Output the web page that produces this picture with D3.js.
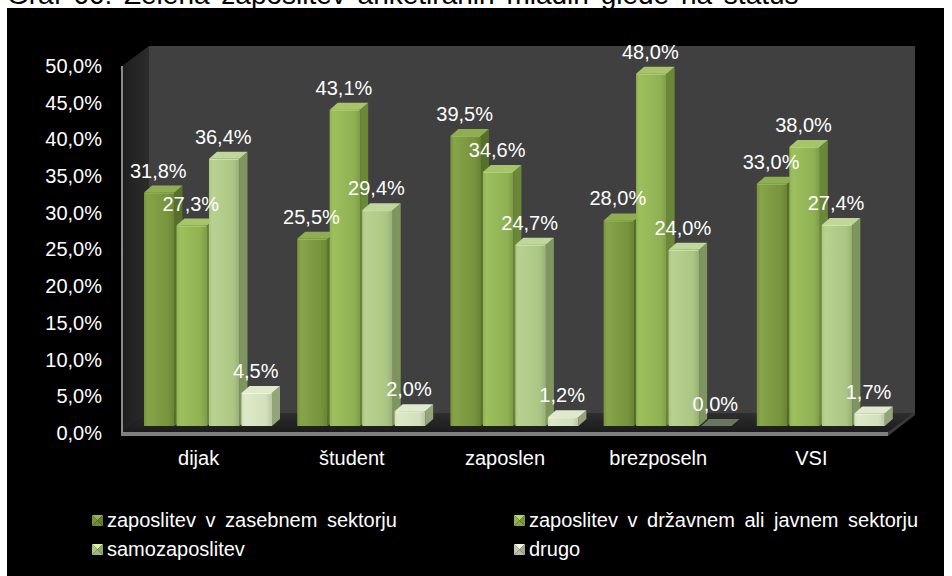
<!DOCTYPE html>
<html>
<head>
<meta charset="utf-8">
<script src="https://cdn.jsdelivr.net/npm/d3@7"></script>
<style>
  html, body { margin: 0; padding: 0; background: #ffffff; }
  svg { display: block; font-family: "Liberation Sans", Arial, sans-serif; }
</style>
</head>
<body>
<svg id="chart" width="952" height="576"></svg>
<script>
// ---- data ----
const titleText = "Graf 66: Želena zaposlitev anketiranih mladih glede na status";
const categories = ["dijak", "študent", "zaposlen", "brezposeln", "VSI"];
const seriesNames = [
  "zaposlitev v zasebnem sektorju",
  "zaposlitev v državnem ali javnem sektorju",
  "samozaposlitev",
  "drugo"
];
const zasebni   = [31.8, 25.5, 39.5, 28.0, 33.0];
const drzavni   = [27.3, 43.1, 34.6, 48.0, 38.0];
const samozap   = [36.4, 29.4, 24.7, 24.0, 27.4];
const drugo     = [4.5, 2.0, 1.2, 0.0, 1.7];
const tickValues = [0, 5, 10, 15, 20, 25, 30, 35, 40, 45, 50];

const seriesValues = [zasebni, drzavni, samozap, drugo];

// colours per series: front, side, top
const palette = [
  { front: "#77933c", light: "#86a449", side: "#56702a", top: "#8fae52" },
  { front: "#8fb152", light: "#9dbf5d", side: "#6a8838", top: "#a6c56a" },
  { front: "#abc683", light: "#b8d191", side: "#7f9560", top: "#c0d79c" },
  { front: "#d3e0bb", light: "#dde8c8", side: "#93a47a", top: "#dfe9cb" }
];

const svg = d3.select("#chart");
const defs = svg.append("defs");
const fmt = v => d3.format(".1f")(v).replace(".", ",") + "%";

// ---- geometry of the 3D box ----
const left = 122, right = 888, depthX = 27, depthY = -20;
const y = d3.scaleLinear().domain([0, 50]).range([433, 66]);
const barDX = 8, barDY = -7, barShiftY = -7;

// title (partly above the panel)
svg.append("text")
  .attr("x", 7).attr("y", 4)
  .attr("font-size", 28).attr("word-spacing", 4)
  .attr("fill", "#000")
  .text(titleText);

// black panel
svg.append("rect").attr("x", 7).attr("y", 8).attr("width", 937).attr("height", 568).attr("fill", "#000");

// gradients
const gSide = defs.append("linearGradient").attr("id", "sideWall").attr("x1", 0).attr("x2", 1);
gSide.append("stop").attr("offset", 0).attr("stop-color", "#1e1e1e");
gSide.append("stop").attr("offset", 1).attr("stop-color", "#2c2c2c");
const gFloor = defs.append("linearGradient").attr("id", "floor").attr("x1", 0).attr("x2", 0).attr("y1", 0).attr("y2", 1);
gFloor.append("stop").attr("offset", 0).attr("stop-color", "#2e2e2e");
gFloor.append("stop").attr("offset", 1).attr("stop-color", "#1a1a1a");

palette.forEach((p, i) => {
  const g = defs.append("linearGradient").attr("id", "front" + i).attr("x1", 0).attr("x2", 1);
  g.append("stop").attr("offset", 0).attr("stop-color", p.front);
  g.append("stop").attr("offset", 0.12).attr("stop-color", p.light);
  g.append("stop").attr("offset", 0.8).attr("stop-color", p.front);
  g.append("stop").attr("offset", 1).attr("stop-color", d3.color(p.front).darker(0.35));
});

const pts = a => a.map(p => p.join(",")).join(" ");

// back wall
svg.append("rect")
  .attr("x", left + depthX).attr("y", y(50) + depthY)
  .attr("width", right - left).attr("height", y(0) - y(50))
  .attr("fill", "#404040");

// left side wall
svg.append("polygon")
  .attr("points", pts([[left, y(50)], [left + depthX, y(50) + depthY], [left + depthX, y(0) + depthY], [left, y(0)]]))
  .attr("fill", "url(#sideWall)");

// floor
svg.append("polygon")
  .attr("points", pts([[left, y(0)], [left + depthX, y(0) + depthY], [right + depthX, y(0) + depthY], [right, y(0)]]))
  .attr("fill", "url(#floor)");

// floor front edge and right edge
svg.append("polygon")
  .attr("points", pts([[right, y(0) - 1], [right + depthX, y(0) + depthY - 1], [right + depthX, y(0) + depthY + 2], [right, y(0) + 3]]))
  .attr("fill", "#3a3a3a");
svg.append("rect")
  .attr("x", left - 1).attr("y", y(0) - 1).attr("width", right - left + 1).attr("height", 4)
  .attr("fill", "#7f7f7f");
// left wall front edge
svg.append("line")
  .attr("x1", left).attr("x2", left).attr("y1", y(50)).attr("y2", y(0))
  .attr("stroke", "#8c8c8c").attr("stroke-width", 2);

// y axis labels
const yAxis = d3.axisLeft(y).tickValues(tickValues).tickFormat(fmt).tickSize(0).tickPadding(20);
const yg = svg.append("g").attr("transform", `translate(${left},0)`).call(yAxis);
yg.select(".domain").remove();
yg.selectAll("text").attr("font-size", 20).attr("fill", "#ffffff")
  .attr("font-family", '"Liberation Sans", Arial, sans-serif');

// category scales
const x0 = d3.scaleBand().domain(categories).range([left, right]);
const x1 = d3.scaleBand().domain(seriesNames).range([22, 150]).paddingInner(0.06);

// x axis labels
const xAxis = d3.axisBottom(x0).tickSize(0).tickPadding(18);
const xg = svg.append("g").attr("transform", `translate(0,${y(0)})`).call(xAxis);
xg.select(".domain").remove();
xg.selectAll("text").attr("font-size", 20).attr("fill", "#ffffff")
  .attr("font-family", '"Liberation Sans", Arial, sans-serif');

// bars
const bars = [];
categories.forEach((c, ci) => {
  seriesNames.forEach((s, si) => {
    bars.push({ cat: c, series: s, si, value: seriesValues[si][ci] });
  });
});

const barG = svg.append("g");
const w = x1.bandwidth();
bars.forEach(d => {
  const bx = x0(d.cat) + x1(d.series);
  const top = y(d.value) + barShiftY;
  const base = y(0) + barShiftY;
  const p = palette[d.si];
  const g = barG.append("g");
  // side face
  g.append("polygon")
    .attr("points", pts([[bx + w, top], [bx + w + barDX, top + barDY], [bx + w + barDX, base + barDY], [bx + w, base]]))
    .attr("fill", p.side);
  // front face
  if (d.value > 0) {
    g.append("rect")
      .attr("x", bx).attr("y", top).attr("width", w).attr("height", base - top)
      .attr("fill", `url(#front${d.si})`);
  }
  // top face
  g.append("polygon")
    .attr("points", pts([[bx, top], [bx + barDX, top + barDY], [bx + w + barDX, top + barDY], [bx + w, top]]))
    .attr("fill", d.value > 0 ? p.top : "#6b7660");
  // slight highlight on the top front edge
  if (d.value > 0) {
    g.append("line")
      .attr("x1", bx + 1).attr("x2", bx + w - 1).attr("y1", top + 0.5).attr("y2", top + 0.5)
      .attr("stroke", d3.color(p.top).brighter(0.4)).attr("stroke-width", 1).attr("opacity", 0.7);
  }
});

// value labels
svg.append("g").selectAll("text").data(bars).join("text")
  .attr("x", d => x0(d.cat) + x1(d.series) + w / 2 - 1)
  .attr("y", d => y(d.value) + barShiftY - 15)
  .attr("text-anchor", "middle")
  .attr("font-size", 20).attr("fill", "#ffffff")
  .text(d => fmt(d.value));

// legend
const legendPos = [[92, 527], [514, 527], [92, 556], [514, 556]];
const lg = svg.append("g");
seriesNames.forEach((s, i) => {
  const [lx, ly] = legendPos[i];
  const p = palette[i];
  const sx = lx, sy = ly - 12, sz = 11;
  const cx = sx + sz / 2, cy = sy + sz / 2;
  const base = i === 3 ? "#c4cbb4" : p.front;
  const light = d3.color(base).brighter(0.6), dark = d3.color(base).darker(0.5);
  lg.append("polygon").attr("points", pts([[sx, sy], [sx + sz, sy], [cx, cy]])).attr("fill", light);
  lg.append("polygon").attr("points", pts([[sx, sy], [sx, sy + sz], [cx, cy]])).attr("fill", base);
  lg.append("polygon").attr("points", pts([[sx + sz, sy], [sx + sz, sy + sz], [cx, cy]])).attr("fill", dark);
  lg.append("polygon").attr("points", pts([[sx, sy + sz], [sx + sz, sy + sz], [cx, cy]])).attr("fill", d3.color(base).darker(0.2));
  lg.append("text")
    .attr("x", lx + 15).attr("y", ly)
    .attr("font-size", 20).attr("word-spacing", 4).attr("fill", "#ffffff")
    .text(s);
});
</script>
</body>
</html>
